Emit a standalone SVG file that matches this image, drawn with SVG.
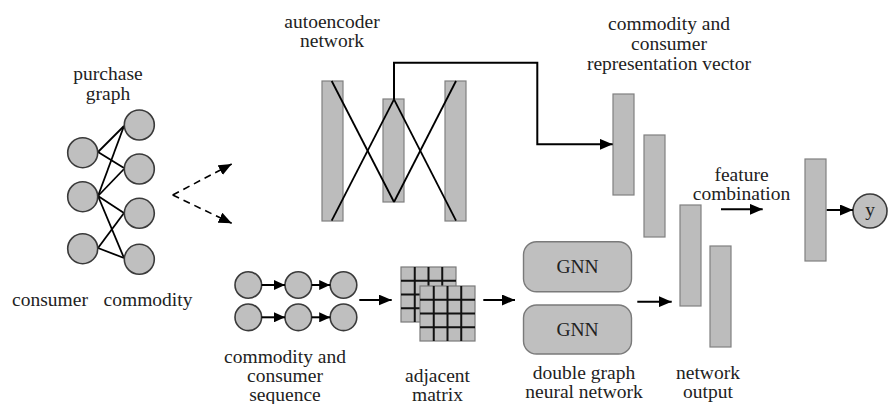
<svg xmlns="http://www.w3.org/2000/svg" width="888" height="404" viewBox="0 0 888 404">
  <defs>
    <marker id="head" markerUnits="userSpaceOnUse" markerWidth="13" markerHeight="11" refX="13" refY="5.5" orient="auto">
      <path d="M0,0 L13,5.5 L0,11 z" fill="#000"/>
    </marker>
    <marker id="headSm" markerUnits="userSpaceOnUse" markerWidth="11" markerHeight="10" refX="11" refY="5" orient="auto">
      <path d="M0,0 L11,5 L0,10 z" fill="#000"/>
    </marker>
    <style>
      .lbl { font-family: "Liberation Serif", "Times New Roman", serif; font-size: 19.5px; fill: #222; text-anchor: middle; }
      .node { fill: #bfbfbf; stroke: #3a3a3a; stroke-width: 1.6; }
      .bar { fill: #bcbcbc; stroke: #808080; stroke-width: 1.2; }
      .gnn { fill: #bfbfbf; stroke: #7a7a7a; stroke-width: 1.4; }
      .edge { stroke: #000; stroke-width: 1.8; fill: none; }
      .arrow { stroke: #000; stroke-width: 2; fill: none; marker-end: url(#head); }
      .arrowSm { stroke: #000; stroke-width: 2; fill: none; marker-end: url(#headSm); }
      .dash { stroke: #000; stroke-width: 1.6; fill: none; stroke-dasharray: 7 5; marker-end: url(#head); }
      .grid { stroke: #111; stroke-width: 2; }
    </style>
  </defs>

  <!-- purchase graph -->
  <g id="purchase-graph">
    <text class="lbl" x="108" y="80">purchase</text>
    <text class="lbl" x="108" y="100">graph</text>
    <g class="edge">
      <line x1="98" y1="152" x2="124" y2="126"/>
      <line x1="98" y1="152" x2="124" y2="168"/>
      <line x1="98" y1="196" x2="124" y2="126"/>
      <line x1="98" y1="196" x2="124" y2="169"/>
      <line x1="98" y1="196" x2="124" y2="213"/>
      <line x1="98" y1="196" x2="124" y2="258"/>
      <line x1="98" y1="248" x2="124" y2="213"/>
      <line x1="98" y1="248" x2="124" y2="258"/>
    </g>
    <circle class="node" cx="82.7" cy="152.7" r="15"/>
    <circle class="node" cx="82.7" cy="196.7" r="15"/>
    <circle class="node" cx="82.7" cy="248.7" r="15"/>
    <circle class="node" cx="139.3" cy="125" r="15"/>
    <circle class="node" cx="139.3" cy="169" r="15"/>
    <circle class="node" cx="139.3" cy="213.3" r="15"/>
    <circle class="node" cx="139.3" cy="259.3" r="15"/>
    <text class="lbl" x="50" y="306">consumer</text>
    <text class="lbl" x="148" y="306">commodity</text>
  </g>

  <!-- autoencoder network -->
  <g id="autoencoder">
    <text class="lbl" x="332" y="28">autoencoder</text>
    <text class="lbl" x="332" y="47">network</text>
    <rect class="bar" x="322" y="81" width="21" height="140"/>
    <rect class="bar" x="383" y="99" width="21" height="103"/>
    <rect class="bar" x="445" y="81" width="21" height="140"/>
    <g class="edge">
      <line x1="331.7" y1="81" x2="394" y2="202"/>
      <line x1="331.7" y1="220.7" x2="394" y2="99.3"/>
      <line x1="394" y1="99.3" x2="456" y2="220.7"/>
      <line x1="394" y1="202" x2="456" y2="81"/>
    </g>
  </g>

  <!-- representation vectors -->
  <g id="representation-vector">
    <text class="lbl" x="669" y="30">commodity and</text>
    <text class="lbl" x="669" y="50">consumer</text>
    <text class="lbl" x="669" y="70">representation vector</text>
    <rect class="bar" x="613" y="94" width="21" height="101"/>
    <rect class="bar" x="644" y="135" width="21" height="102"/>
  </g>

  <!-- sequences -->
  <g id="sequence">
    <circle class="node" cx="248.3" cy="285" r="13.3"/>
    <circle class="node" cx="298.3" cy="285" r="13.3"/>
    <circle class="node" cx="343.5" cy="285" r="13.3"/>
    <circle class="node" cx="248.3" cy="317.3" r="13.3"/>
    <circle class="node" cx="298.3" cy="317.3" r="13.3"/>
    <circle class="node" cx="343.5" cy="317.3" r="13.3"/>
    <text class="lbl" x="285" y="363">commodity and</text>
    <text class="lbl" x="285" y="382">consumer</text>
    <text class="lbl" x="285" y="401">sequence</text>
  </g>

  <!-- adjacent matrix -->
  <g id="adjacent-matrix">
    <rect x="401" y="267" width="55" height="55" fill="#bdbdbd" stroke="#7a7a7a" stroke-width="1.2"/>
    <g class="grid">
      <line x1="414.75" y1="267" x2="414.75" y2="322"/>
      <line x1="428.5" y1="267" x2="428.5" y2="322"/>
      <line x1="442.25" y1="267" x2="442.25" y2="322"/>
      <line x1="401" y1="280.75" x2="456" y2="280.75"/>
      <line x1="401" y1="294.5" x2="456" y2="294.5"/>
      <line x1="401" y1="308.25" x2="456" y2="308.25"/>
    </g>
    <rect x="420" y="286" width="55" height="55" fill="#bdbdbd" stroke="#7a7a7a" stroke-width="1.2"/>
    <g class="grid">
      <line x1="433.75" y1="286" x2="433.75" y2="341"/>
      <line x1="447.5" y1="286" x2="447.5" y2="341"/>
      <line x1="461.25" y1="286" x2="461.25" y2="341"/>
      <line x1="420" y1="299.75" x2="475" y2="299.75"/>
      <line x1="420" y1="313.5" x2="475" y2="313.5"/>
      <line x1="420" y1="327.25" x2="475" y2="327.25"/>
    </g>
    <text class="lbl" x="437.5" y="382">adjacent</text>
    <text class="lbl" x="437.5" y="401">matrix</text>
  </g>

  <!-- double graph neural network -->
  <g id="gnn">
    <rect class="gnn" x="523.5" y="241.7" width="108" height="50" rx="13"/>
    <rect class="gnn" x="523.5" y="305" width="108" height="49" rx="13"/>
    <text class="lbl" x="577.5" y="273">GNN</text>
    <text class="lbl" x="577.5" y="336">GNN</text>
    <text class="lbl" x="584" y="379">double graph</text>
    <text class="lbl" x="584" y="398">neural network</text>
  </g>

  <!-- network output -->
  <g id="network-output">
    <rect class="bar" x="680" y="205" width="21" height="101"/>
    <rect class="bar" x="710" y="246" width="21" height="101"/>
    <text class="lbl" x="708" y="379">network</text>
    <text class="lbl" x="708" y="398">output</text>
  </g>

  <!-- feature combination -->
  <g id="feature-combination">
    <text class="lbl" x="741.5" y="181">feature</text>
    <text class="lbl" x="741.5" y="200">combination</text>
    <rect class="bar" x="805" y="159" width="21" height="102"/>
  </g>

  <!-- output y -->
  <g id="output-y">
    <circle class="node" cx="870" cy="211" r="17" stroke-width="1.2"/>
    <text class="lbl" x="870" y="216">y</text>
  </g>

  <!-- connectors -->
  <g id="connectors">
    <line class="dash" x1="172.7" y1="195" x2="231.7" y2="164"/>
    <line class="dash" x1="172.7" y1="195" x2="231.7" y2="223.3"/>
    <polyline class="arrow" points="394,99.3 394,62.7 537.3,62.7 537.3,144.3 612.7,144.3"/>
    <line class="arrowSm" x1="261.6" y1="285" x2="285" y2="285"/>
    <line class="arrowSm" x1="311.6" y1="285" x2="330.2" y2="285"/>
    <line class="arrowSm" x1="261.6" y1="317.3" x2="285" y2="317.3"/>
    <line class="arrowSm" x1="311.6" y1="317.3" x2="330.2" y2="317.3"/>
    <line class="arrow" x1="359.3" y1="300" x2="391.7" y2="300"/>
    <line class="arrow" x1="483.3" y1="300" x2="515" y2="300"/>
    <line class="arrow" x1="637.3" y1="301.7" x2="671.7" y2="301.7"/>
    <line class="arrow" x1="721" y1="209.3" x2="762.7" y2="209.3"/>
    <line class="arrow" x1="826.7" y1="210" x2="853" y2="210"/>
  </g>
</svg>
